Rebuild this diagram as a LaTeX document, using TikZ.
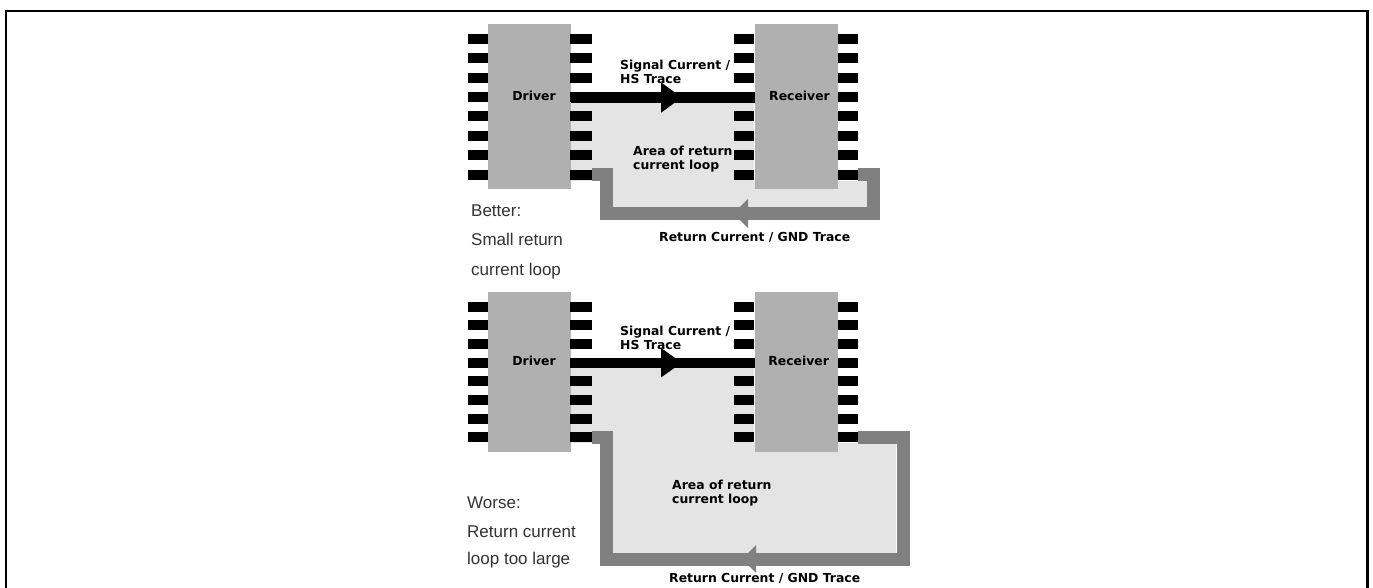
\documentclass[tikz,border=0pt]{standalone}
\usepackage{fontspec}
\setmainfont{Liberation Sans}
\newfontfamily\tracefont{DejaVu Sans}[BoldFont={DejaVu Sans Bold}]
\usetikzlibrary{arrows.meta, calc}
\definecolor{chipgray}{RGB}{176, 176, 176}
\definecolor{loopfill}{RGB}{228, 228, 228}
\definecolor{retgray}{RGB}{128, 128, 128}
\definecolor{captext}{RGB}{50, 50, 50}
\tikzset{
  chip/.style={rectangle, fill=chipgray, inner sep=0pt, outer sep=0pt, minimum width=#1},
  chip/.default=83pt,
  pin/.style={rectangle, fill=black, inner sep=0pt, outer sep=0pt, minimum width=#1, minimum height=10pt},
  pin/.default=20pt,
  sigtrace/.style={line width=10.4pt, draw=black},
  rettrace/.style={line width=13pt, draw=retgray, miter limit=10},
  boldlabel/.style={font=\tracefont\bfseries\fontsize{12.4}{13.8}\selectfont, align=left, inner sep=0pt, anchor=north west},
  chiplabel/.style={font=\tracefont\bfseries\fontsize{12.4}{13.8}\selectfont, inner sep=0pt},
  caption/.style={font=\fontsize{17}{19}\selectfont, text=captext, inner sep=0pt, anchor=base west},
}
\begin{document}
\begin{tikzpicture}[x=1pt,y=-1pt]
  \useasboundingbox (0,0) rectangle (1373,588);
  % frame
  \draw[black, line width=2.2pt] (6,588) -- (6,11) -- (1367.5,11) -- (1367.5,588);
  % better: upper panel
  \fill[loopfill] (570,102) -- (754,102) -- (754,181) -- (867,181) -- (867,207)
    -- (613,207) -- (613,181) -- (570,181) -- cycle;
  \node[chip, minimum height=165pt] (driverA) at (529,106.5) {};
  \node[chip, minimum height=165pt] (receiverA) at (796,106.5) {};
  \foreach \i/\y in {1/39,2/58.5,3/78,4/97.5,5/116.5,6/136,7/155.5,8/175} {
    \node[pin] (dlA\i) at (478,\y) {};
    \node[pin=22pt] (drA\i) at (581,\y) {};
    \node[pin] (rlA\i) at (744,\y) {};
    \node[pin] (rrA\i) at (848,\y) {};
  }
  \coordinate (sigmidA) at (682,97.5);
  \coordinate (sigbaseA) at (665,97.5);
  \draw[sigtrace, -{Triangle[length=21pt, width=29pt]}] (driverA.east |- drA4) -- (sigmidA);
  \draw[sigtrace] (sigbaseA) -- (receiverA.west |- rlA4);
  \draw[rettrace] (rrA8.east) -- (873.5,175) -- (873.5,213.5) -- (740,213.5);
  \draw[rettrace] (740,213.5) -- (606,213.5) -- (606,175) -- (drA8.east);
  \fill[retgray] (748,199) -- (733,213.5) -- (748,228) -- cycle;
  \node[chiplabel] (driverlabelA) at (534,96) {Driver};
  \node[chiplabel] (receiverlabelA) at (799.5,96) {Receiver};
  \node[boldlabel] (signallabelA) at (620,60) {Signal Current /\\HS Trace};
  \node[boldlabel] (arealabelA) at (633,146) {Area of return\\current loop};
  \node[boldlabel] (returnlabelA) at (659,232) {Return Current / GND Trace};
  \node[caption] (betterA) at (471,217) {Better:};
  \node[caption] (betterB) at (471,245) {Small return};
  \node[caption] (betterC) at (471,275) {current loop};
  % worse: lower panel
  \fill[loopfill] (570,368) -- (754,368) -- (754,443) -- (896,443) -- (896,553)
    -- (613,553) -- (613,443) -- (570,443) -- cycle;
  \node[chip, minimum height=160pt] (driverB) at (529,372) {};
  \node[chip, minimum height=160pt] (receiverB) at (796,372) {};
  \foreach \i/\y in {1/306.7,2/325,3/344,4/362.7,5/381,6/400,7/418.7,8/437.3} {
    \node[pin] (dlB\i) at (478,\y) {};
    \node[pin=22pt] (drB\i) at (581,\y) {};
    \node[pin] (rlB\i) at (744,\y) {};
    \node[pin] (rrB\i) at (848,\y) {};
  }
  \coordinate (sigmidB) at (682,362.7);
  \coordinate (sigbaseB) at (665,362.7);
  \draw[sigtrace, -{Triangle[length=21pt, width=28pt]}] (driverB.east |- drB4) -- (sigmidB);
  \draw[sigtrace] (sigbaseB) -- (receiverB.west |- rlB4);
  \draw[rettrace] (rrB8.east) -- (903,437.3) -- (903,559) -- (750,559);
  \draw[rettrace] (750,559) -- (606,559) -- (606,437.3) -- (drB8.east);
  \fill[retgray] (756,545) -- (742,559) -- (756,573) -- cycle;
  \node[chiplabel] (driverlabelB) at (534,361) {Driver};
  \node[chiplabel] (receiverlabelB) at (798.7,361) {Receiver};
  \node[boldlabel] (signallabelB) at (620,326) {Signal Current /\\HS Trace};
  \node[boldlabel] (arealabelB) at (672,480) {Area of return\\current loop};
  \node[boldlabel] (returnlabelB) at (669,573) {Return Current / GND Trace};
  \node[caption] (worseA) at (467,508) {Worse:};
  \node[caption] (worseB) at (467,537) {Return current};
  \node[caption] (worseC) at (467,564) {loop too large};
\end{tikzpicture}
\end{document}
